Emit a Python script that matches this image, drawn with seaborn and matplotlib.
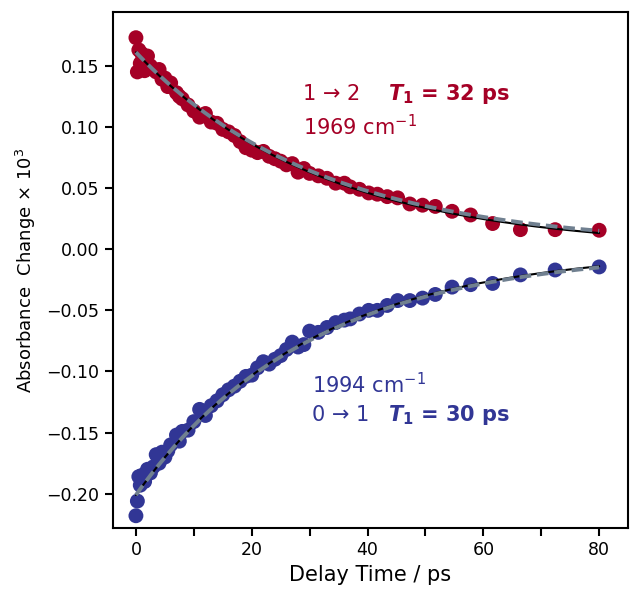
import numpy as np
import matplotlib
matplotlib.use("Agg")
import matplotlib.pyplot as plt
from matplotlib.ticker import MultipleLocator
import seaborn as sns

# delay times (ps), shared by both traces
times = [0, 0.25, 0.5, 0.75, 1.0, 1.5, 2.0, 2.5, 3.0, 3.5, 4.0, 4.5, 5.0, 5.5, 6.0,
         7.0, 7.5, 8.0, 9.0, 10.0, 11.0, 12.0, 13.0, 14.0, 15.0, 16.0, 17.0, 18.0,
         19.0, 20.0, 21.0, 22.0, 23.0, 24.0, 25.0, 26.0, 27.0, 28.0, 29.0, 30.0,
         31.5, 33.0, 34.5, 36.0, 37.0, 38.6, 40.2, 41.7, 43.4, 45.2, 47.3, 49.5,
         51.7, 54.6, 57.8, 61.6, 66.4, 72.4, 80.0]

# 1 -> 2 transition, 1969 cm-1
red_vals = [0.173, 0.145, 0.163, 0.152, 0.160, 0.146, 0.158, 0.150, 0.147, 0.145,
            0.147, 0.139, 0.140, 0.133, 0.136, 0.128, 0.125, 0.123, 0.118, 0.113,
            0.108, 0.111, 0.104, 0.103, 0.098, 0.096, 0.093, 0.088, 0.083, 0.081,
            0.079, 0.080, 0.076, 0.074, 0.072, 0.069, 0.070, 0.063, 0.066, 0.062,
            0.060, 0.058, 0.054, 0.054, 0.051, 0.049, 0.046, 0.045, 0.043, 0.042,
            0.037, 0.036, 0.035, 0.031, 0.028, 0.021, 0.016, 0.016, 0.0155]

# 0 -> 1 transition, 1994 cm-1
blue_vals = [-0.218, -0.206, -0.186, -0.193, -0.185, -0.190, -0.180, -0.183, -0.178,
             -0.168, -0.175, -0.166, -0.170, -0.165, -0.160, -0.152, -0.157, -0.149,
             -0.148, -0.141, -0.131, -0.136, -0.128, -0.124, -0.119, -0.115, -0.112,
             -0.108, -0.104, -0.103, -0.097, -0.092, -0.094, -0.090, -0.087, -0.082,
             -0.076, -0.080, -0.078, -0.067, -0.068, -0.064, -0.060, -0.058, -0.057,
             -0.053, -0.050, -0.050, -0.046, -0.042, -0.042, -0.040, -0.037, -0.031,
             -0.029, -0.028, -0.021, -0.017, -0.0145]

# fit parameters: amplitude, T1 (ps), offset
red_fit = (0.161, 32, 0.0)
red_fit2 = (0.159, 32, 0.002)
blue_fit = (-0.201, 30, 0.0)
blue_fit2 = (-0.200, 30, -0.001)

red = "#a50026"
blue = "#313695"

sns.set_style("ticks")
plt.rcParams["font.family"] = ["DejaVu Sans"]
plt.rcParams["text.color"] = "black"
plt.rcParams["axes.labelcolor"] = "black"
plt.rcParams["xtick.color"] = "black"
plt.rcParams["ytick.color"] = "black"

fig = plt.figure(figsize=(6.3, 5.89), dpi=100)
ax = fig.add_axes([0.179, 0.1036, 0.818, 0.876])

sns.scatterplot(x=times, y=red_vals, color=red, s=115, edgecolor="none", ax=ax, zorder=2)
sns.scatterplot(x=times, y=blue_vals, color=blue, s=115, edgecolor="none", ax=ax, zorder=2)

# fitted decays
tt = np.linspace(0, 80, 300)
for amp, tau, off in (red_fit, blue_fit):
    sns.lineplot(x=tt, y=amp * np.exp(-tt / tau) + off, color="black", lw=1.5, ax=ax, zorder=3)
for amp, tau, off in (red_fit2, blue_fit2):
    sns.lineplot(x=tt, y=amp * np.exp(-tt / tau) + off, color="#708090", lw=2.8,
                 ax=ax, zorder=4, dashes=False, linestyle=(0, (3, 1.5)))

ax.set_xlim(-4, 85)
ax.set_ylim(-0.228, 0.194)
ax.xaxis.set_major_locator(MultipleLocator(20))
ax.xaxis.set_minor_locator(MultipleLocator(10))
ax.yaxis.set_major_locator(MultipleLocator(0.05))
ax.tick_params(which="both", direction="out", length=6, width=1.5, labelsize=12.5)
for sp in ax.spines.values():
    sp.set_linewidth(1.5)
    sp.set_color("black")

ax.set_xlabel("Delay Time / ps", fontsize=15, labelpad=4)
ax.set_ylabel("Absorbance  Change $\\times$ 10$^3$", fontsize=13, labelpad=6)

# annotations
ax.text(28.8, 0.127, "1 \u2192 2", color=red, fontsize=15, va="center")
ax.text(43.5, 0.127, "$\\mathbfit{T}_\\mathbf{1}$ = 32 ps", color=red, fontsize=15,
        fontweight="bold", va="center")
ax.text(28.8, 0.100, "1969 cm$^{-1}$", color=red, fontsize=15, va="center")
ax.text(30.4, -0.111, "1994 cm$^{-1}$", color=blue, fontsize=15, va="center")
ax.text(30.4, -0.136, "0 \u2192 1", color=blue, fontsize=15, va="center")
ax.text(43.5, -0.136, "$\\mathbfit{T}_\\mathbf{1}$ = 30 ps", color=blue, fontsize=15,
        fontweight="bold", va="center")

fig.savefig("out.png", dpi=100)
